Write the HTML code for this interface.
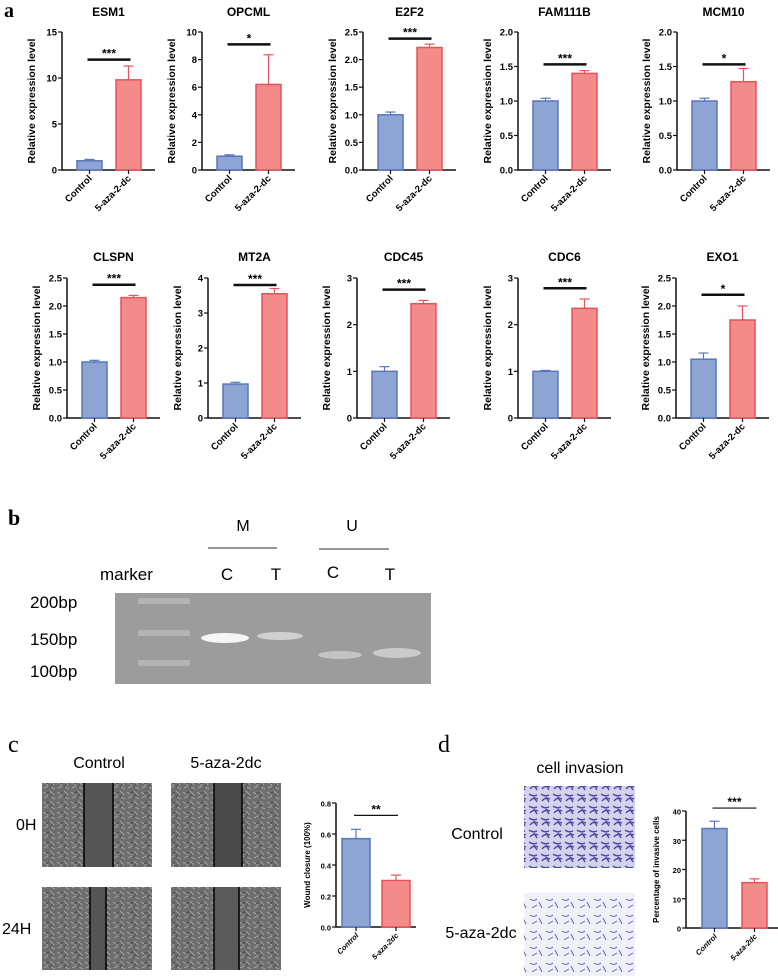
<!DOCTYPE html>
<html><head><meta charset="utf-8"><style>
body{margin:0;background:#fff}
svg{display:block;font-family:"Liberation Sans",Arial,sans-serif}
</style></head><body>
<svg id="fig" width="778" height="977" viewBox="0 0 778 977" xmlns="http://www.w3.org/2000/svg">
<defs>
<pattern id="cells" width="14" height="10" patternUnits="userSpaceOnUse">
<rect width="14" height="10" fill="#6e6e6e"/>
<path d="M1 2 l5 3 M8 1 l4 4 M2 8 l4-2 M9 7 l4 2" stroke="#b0b0b0" stroke-width="0.8"/>
<path d="M4 4 l3 -2 M10 4 l-2 4" stroke="#444" stroke-width="0.8"/>
</pattern>
<pattern id="inv1" width="12" height="12" patternUnits="userSpaceOnUse">
<rect width="12" height="12" fill="#d4d3ec"/>
<path d="M1 2 q4 3 8 1 M2 9 q3-4 8-2 M6 5 l3 5" stroke="#4a45a8" stroke-width="1.4" fill="none"/>
</pattern>
<pattern id="inv2" width="16" height="16" patternUnits="userSpaceOnUse">
<rect width="16" height="16" fill="#f0f0f7"/>
<path d="M2 3 q4 3 7 0 M4 12 l5 -3 M11 6 l3 6" stroke="#6a66bb" stroke-width="1" fill="none"/>
</pattern>
</defs>
<g id="panelA"></g>
<g id="panelB">
<text x="8" y="525" font-family="Liberation Serif,serif" font-size="22" font-weight="bold">b</text>
<text x="243" y="531" font-size="16" text-anchor="middle">M</text>
<line x1="208" y1="548" x2="277" y2="548" stroke="#333"/>
<text x="352" y="531" font-size="16" text-anchor="middle">U</text>
<line x1="319" y1="549" x2="389" y2="549" stroke="#333"/>
<text x="100" y="580" font-size="17">marker</text>
<text x="227" y="580" font-size="17" text-anchor="middle">C</text>
<text x="276" y="580" font-size="17" text-anchor="middle">T</text>
<text x="333" y="578" font-size="17" text-anchor="middle">C</text>
<text x="390" y="580" font-size="17" text-anchor="middle">T</text>
<text x="30" y="608" font-size="17">200bp</text>
<text x="30" y="645" font-size="17">150bp</text>
<text x="30" y="677" font-size="17">100bp</text>
<rect x="115" y="593" width="316" height="91" fill="#9c9c9c"/>
<rect x="138" y="598" width="52" height="6" rx="2" fill="#b4b4b4"/>
<rect x="138" y="630" width="52" height="6" rx="2" fill="#b4b4b4"/>
<rect x="138" y="660" width="52" height="6" rx="2" fill="#b4b4b4"/>
<ellipse cx="225" cy="638" rx="24" ry="5" fill="#f6f6f6"/>
<ellipse cx="280" cy="636" rx="23" ry="4" fill="#d0d0d0"/>
<ellipse cx="340" cy="655" rx="22" ry="4" fill="#c4c4c4"/>
<ellipse cx="397" cy="653" rx="24" ry="5" fill="#cacaca"/>
</g>
<g id="panelC">
<text x="8" y="752" font-family="Liberation Serif,serif" font-size="24">c</text>
<text x="99" y="768" font-size="16" text-anchor="middle">Control</text>
<text x="226" y="768" font-size="16" text-anchor="middle">5-aza-2dc</text>
<text x="16" y="830" font-size="16">0H</text>
<text x="2" y="934" font-size="16">24H</text>
<rect x="42" y="783" width="110" height="84" fill="url(#cells)"/>
<rect x="84" y="783" width="29" height="84" fill="#555"/>
<line x1="84" y1="783" x2="84" y2="867" stroke="#000" stroke-width="1.5"/><line x1="113" y1="783" x2="113" y2="867" stroke="#000" stroke-width="1.5"/>
<rect x="171" y="783" width="110" height="84" fill="url(#cells)"/>
<rect x="214" y="783" width="28" height="84" fill="#4a4a4a"/>
<line x1="214" y1="783" x2="214" y2="867" stroke="#000" stroke-width="1.5"/><line x1="242" y1="783" x2="242" y2="867" stroke="#000" stroke-width="1.5"/>
<rect x="42" y="887" width="110" height="83" fill="url(#cells)"/>
<rect x="90" y="887" width="16" height="83" fill="#555"/>
<line x1="90" y1="887" x2="90" y2="970" stroke="#000" stroke-width="1.5"/><line x1="106" y1="887" x2="106" y2="970" stroke="#000" stroke-width="1.5"/>
<rect x="171" y="887" width="110" height="83" fill="url(#cells)"/>
<rect x="214" y="887" width="25" height="83" fill="#5a5a5a"/>
<line x1="214" y1="887" x2="214" y2="970" stroke="#000" stroke-width="1.5"/><line x1="239" y1="887" x2="239" y2="970" stroke="#000" stroke-width="1.5"/>
</g>
<g id="panelD">
<text x="438" y="752" font-family="Liberation Serif,serif" font-size="24">d</text>
<text x="580" y="773" font-size="16" text-anchor="middle">cell  invasion</text>
<text x="477" y="839" font-size="16" text-anchor="middle">Control</text>
<text x="481" y="938" font-size="16" text-anchor="middle">5-aza-2dc</text>
<rect x="524" y="786" width="111" height="82" fill="url(#inv1)"/>
<rect x="524" y="893" width="111" height="83" fill="url(#inv2)"/>
</g>
<g id="charts"></g>
</svg>
<script>
// Panel a data
const genes = ["ESM1","OPCML","E2F2","FAM111B","MCM10","CLSPN","MT2A","CDC45","CDC6","EXO1"];
const yMax = [15,10,2.5,2,2,2.5,4,3,3,2.5];
const yStep = [5,2,0.5,0.5,0.5,0.5,1,1,1,0.5];
const controlMean = [1.0,1.0,1.0,1.0,1.0,1.0,0.97,1.0,1.0,1.05];
const controlErr = [0.15,0.1,0.05,0.04,0.04,0.03,0.05,0.1,0.02,0.11];
const treatMean = [9.8,6.2,2.22,1.4,1.28,2.15,3.55,2.45,2.35,1.75];
const treatErr = [1.5,2.15,0.06,0.04,0.19,0.04,0.15,0.07,0.2,0.25];
const sigLevel = [12,9.1,2.38,1.53,1.53,2.38,3.8,2.75,2.78,2.2];
const sigText = ["***","*","***","***","*","***","***","***","***","*"];
const groups = ["Control","5-aza-2-dc"];
// Panel c data
const woundGroups = ["Control","5-aza-2dc"];
const woundMean = [0.57,0.30];
const woundErr = [0.06,0.035];
const woundTicks = [0.0,0.2,0.4,0.6,0.8];
// Panel d data
const invGroups = ["Control","5-aza-2dc"];
const invMean = [34,15.5];
const invErr = [2.5,1.3];
const invTicks = [0,10,20,30,40];

const NS="http://www.w3.org/2000/svg";
const charts=document.getElementById('charts');
function mk(tag,attrs,parent,text){const e=document.createElementNS(NS,tag);for(const k in attrs)e.setAttribute(k,attrs[k]);if(text!==undefined)e.textContent=text;(parent||charts).appendChild(e);return e;}
const BLUE_F="#8ea5d3",BLUE_S="#5877bb",RED_F="#f28b8a",RED_S="#e6535a";

function barChart(o){
  const g=mk('g',{});
  
  
  const sy=v=>o.y0-(v/o.max)*(o.y0-o.yTop);
  const ax=mk('path',{d:`M${o.ax} ${o.yTop} V${o.y0} H${o.ax+o.len}`,stroke:"#111","stroke-width":1.5,fill:"none"},g);
  
  
  o.ticks.forEach(t=>{
    mk('line',{x1:o.ax-4,x2:o.ax,y1:sy(t),y2:sy(t),stroke:"#111","stroke-width":1.2},g);
    const tl=mk('text',{x:o.ax-5,y:sy(t)+3.5,"font-size":o.fs,"font-weight":"bold","text-anchor":"end"},g,o.fmt(t));
    
    
  });
  const yl=mk('text',{transform:`translate(${o.ax+o.ylOff},${(o.yTop+o.y0)/2}) rotate(-90)`,"font-size":o.ylfs,"font-weight":"bold","text-anchor":"middle"},g,o.ylabel);
  
  
  if(o.title){const tt=mk('text',{x:o.ax+o.len/2,y:o.titleY,"font-size":12,"font-weight":"bold","text-anchor":"middle"},g,o.title);
    
    }
  const cx=[];
  o.means.forEach((m,i)=>{
    const x=o.ax+o.bx[i], w=o.bw, c=x+w/2; cx.push(c);
    const fill=i?RED_F:BLUE_F, st=i?RED_S:BLUE_S;
    const top=sy(o.means[i]+o.errs[i]);
    mk('line',{x1:c,x2:c,y1:sy(m),y2:top,stroke:st,"stroke-width":1.2},g);
    mk('line',{x1:c-5,x2:c+5,y1:top,y2:top,stroke:st,"stroke-width":1.2},g);
    const b=mk('rect',{x:x,y:sy(m),width:w,height:o.y0-sy(m),fill:fill,stroke:st,"stroke-width":1.5},g);
    
    
    mk('line',{x1:c,x2:c,y1:o.y0,y2:o.y0+4,stroke:"#111","stroke-width":1.2},g);
    const xl=mk('text',{transform:`translate(${c+3},${o.y0+9}) rotate(-45)`,"font-size":o.fs,"font-weight":"bold","font-style":o.italic?"italic":"normal","text-anchor":"end"},g,o.groups[i]);
    
    
  });
  const sl=mk('line',{x1:cx[0]-2,x2:cx[1]+2,y1:sy(o.sig),y2:sy(o.sig),stroke:"#111","stroke-width":o.sigW},g);
  
  
  const st=mk('text',{x:(cx[0]+cx[1])/2,y:sy(o.sig)-2,"font-size":12,"font-weight":"bold","text-anchor":"middle"},g,o.sigText);
  
  
}
const axX=[62,202,363,518,677,67,208,357,518,676];
genes.forEach((gname,i)=>{
  const row=i<5?0:1;
  const ticks=[];for(let t=0;t<=yMax[i]+1e-9;t+=yStep[i])ticks.push(Math.round(t*100)/100);
  const dec=yStep[i]<1;
  barChart({name:'chart-'+gname.toLowerCase(),ax:axX[i],len:93,yTop:row?278:32,y0:row?418:170,max:yMax[i],ticks:ticks,
    fmt:t=>dec?t.toFixed(1):String(t),fs:9.5,ylfs:10.5,ylOff:-27,ylabel:"Relative expression level",title:gname,titleY:row?261:16,
    means:[controlMean[i],treatMean[i]],errs:[controlErr[i],treatErr[i]],bx:[15,54],bw:25,groups:groups,
    sig:sigLevel[i],sigText:sigText[i],sigW:2.5});
});
const la=mk('text',{x:4,y:17,"font-size":20,"font-weight":"bold","font-family":"Liberation Serif,serif"},charts,"a");


barChart({name:'chart-wound-closure',ax:336,len:80,yTop:803,y0:927,max:0.8,ticks:woundTicks,fmt:t=>t.toFixed(1),fs:7.5,ylfs:8,ylOff:-26,
  ylabel:"Wound closure (100%)",means:woundMean,errs:woundErr,bx:[6,46],bw:28,groups:woundGroups,italic:true,sig:0.72,sigText:"**",sigW:1.2});
barChart({name:'chart-invasive-cells',ax:686,len:92,yTop:811,y0:928,max:40,ticks:invTicks,fmt:t=>String(t),fs:7.5,ylfs:8,ylOff:-27,
  ylabel:"Percentage of invasive cells",means:invMean,errs:invErr,bx:[16,56],bw:25,groups:invGroups,italic:true,sig:41,sigText:"***",sigW:1.2});
</script>
</body></html>
